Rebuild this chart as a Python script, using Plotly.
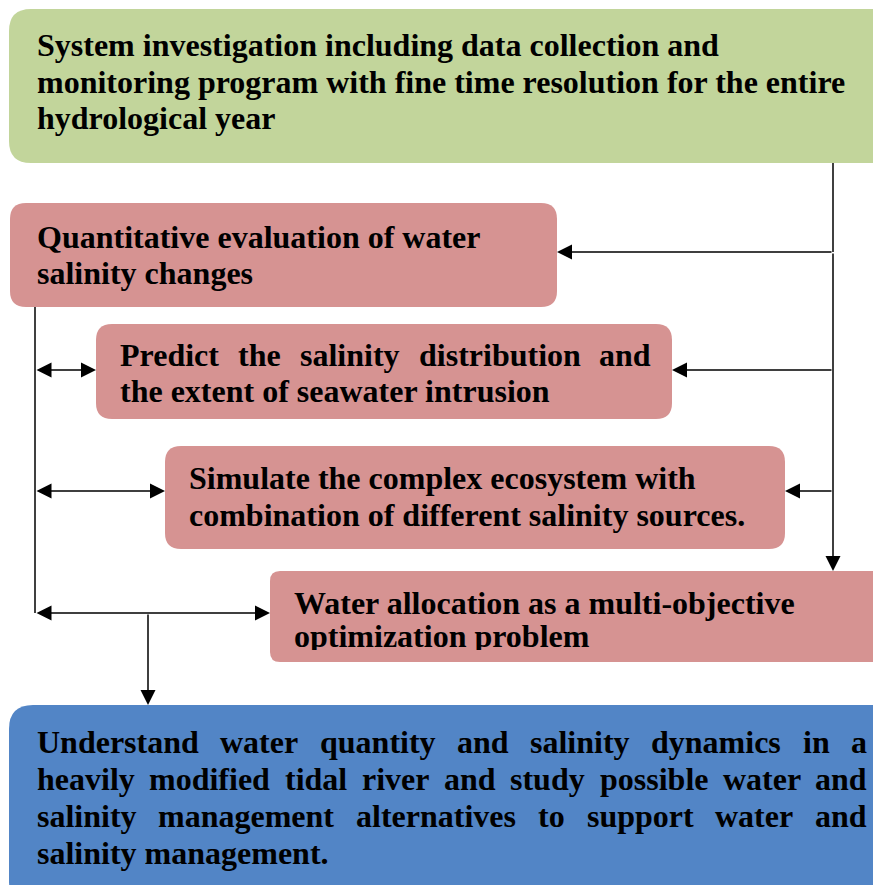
import plotly.graph_objects as go

W, H = 881, 885
OFF = 8  # page body margin in the browser
FONT = "Liberation Serif"
FS = 32

# ---- data: box texts ----
green_lines = ["System investigation including data collection and",
               "monitoring program with fine time resolution for the entire",
               "hydrological year"]
red1_lines = ["Quantitative evaluation of water", "salinity changes"]
red2_lines = ["Predict the salinity distribution and", "the extent of seawater intrusion"]
red3_lines = ["Simulate the complex ecosystem with",
              "combination of different salinity sources."]
red4_lines = ["Water allocation as a multi-objective", "optimization problem"]
blue_lines = ["Understand water quantity and salinity dynamics in a",
              "heavily modified tidal river and study possible water and",
              "salinity management alternatives to support water and",
              "salinity management."]

GREEN = "#c2d59b"
RED = "#d69392"
BLUE = "#5285c6"

# Times-Bold-like advance widths (per 1000 em)
CW = {' ': 250, 'a': 500, 'b': 556, 'c': 444, 'd': 556, 'e': 444, 'f': 333, 'g': 500, 'h': 556,
      'i': 278, 'j': 333, 'k': 556, 'l': 278, 'm': 833, 'n': 556, 'o': 500, 'p': 556, 'q': 556,
      'r': 444, 's': 389, 't': 333, 'u': 556, 'v': 500, 'w': 722, 'x': 500, 'y': 500, 'z': 444,
      '.': 250, '-': 333, 'U': 722, 'P': 611, 'S': 556, 'Q': 778, 'W': 1000}


def text_w(s, fs):
    return sum(CW.get(c, 500) for c in s) * fs / 1000.0


fig = go.Figure()
shapes = []
annots = []
FNT = dict(family=FONT, size=FS, color="black", weight="bold")


def rbox(x0, y0, x1, y1, r, color):
    p = (f"M {x0+r},{y0} L {x1-r},{y0} Q {x1},{y0} {x1},{y0+r} "
         f"L {x1},{y1-r} Q {x1},{y1} {x1-r},{y1} L {x0+r},{y1} "
         f"Q {x0},{y1} {x0},{y1-r} L {x0},{y0+r} Q {x0},{y0} {x0+r},{y0} Z")
    shapes.append(dict(type="path", path=p, xref="x", yref="y", fillcolor=color,
                       line=dict(width=0), layer="below"))


def lines_text(lines, x, y0, dy, justify=None):
    for i, ln in enumerate(lines):
        y = y0 + i * dy
        if justify and justify[i]:
            words = ln.split(" ")
            right = justify[i]
            ws = [text_w(w, FS) for w in words]
            gap = (right - x - sum(ws)) / (len(words) - 1)
            cx = x
            for w, wd in zip(words, ws):
                annots.append(dict(x=cx, y=y, xref="x", yref="y", text=w, showarrow=False,
                                   xanchor="left", yanchor="middle", font=FNT))
                cx += wd + gap
        else:
            annots.append(dict(x=x, y=y, xref="x", yref="y", text=ln, showarrow=False,
                               xanchor="left", yanchor="middle", font=FNT))


def arrow(x0, y0, x1, y1, both=False):
    annots.append(dict(x=x1, y=y1, ax=x0, ay=y0, xref="x", yref="y", axref="x", ayref="y",
                       text="", showarrow=True, arrowhead=2, arrowsize=2.0, arrowwidth=1.5,
                       arrowcolor="black", arrowside="end+start" if both else "end",
                       startarrowhead=2, startarrowsize=2.0, standoff=0, startstandoff=0))


def seg(x0, y0, x1, y1):
    shapes.append(dict(type="line", x0=x0, y0=y0, x1=x1, y1=y1, xref="x", yref="y",
                       line=dict(color="black", width=1.5)))


# boxes
rbox(9, 9, 895, 163, 22, GREEN)
rbox(10, 203, 557, 307, 16, RED)
rbox(96, 324, 672, 419, 16, RED)
rbox(165, 446, 785, 549, 16, RED)
rbox(270, 571, 895, 662, 10, RED)
rbox(9, 705, 895, 905, 24, BLUE)

# text
lines_text(green_lines, 35, 45, 36.5)
lines_text(red1_lines, 35, 237, 36)
lines_text(red2_lines, 118, 355, 36, justify=[649, None])
lines_text(red3_lines, 187, 478, 37)
lines_text(red4_lines[:1], 292, 603, 36)
lines_text(blue_lines, 35, 742, 37, justify=[865, 865, 865, None])

# last line of the allocation box is clipped by its text frame
fig.add_trace(go.Scatter(x=[294], y=[639], mode="text", text=[red4_lines[1]],
                         textposition="middle right", textfont=FNT,
                         hoverinfo="skip", showlegend=False))
shapes.append(dict(type="rect", x0=285, x1=640, y0=650, y1=661, xref="x", yref="y",
                   fillcolor=RED, line=dict(width=0), layer="above"))

# connectors on the right
seg(833, 163, 833, 252)
arrow(833, 252, 557, 252)
arrow(833, 370, 672, 370)
arrow(833, 491, 785, 491)
arrow(833, 252, 833, 571)

# connectors on the left
seg(35, 307, 35, 613)
arrow(35, 370, 96, 370, both=True)
arrow(35, 491, 165, 491, both=True)
arrow(35, 613, 270, 613, both=True)
arrow(148, 613, 148, 705)

fig.update_layout(
    width=W - OFF, height=H - OFF, margin=dict(l=0, r=0, t=0, b=0),
    paper_bgcolor="white", plot_bgcolor="white",
    xaxis=dict(range=[OFF, W], visible=False, fixedrange=True),
    yaxis=dict(range=[H, OFF], visible=False, fixedrange=True),
    shapes=shapes, annotations=annots, showlegend=False,
)
fig.write_html("out.html", config={"displayModeBar": False})
